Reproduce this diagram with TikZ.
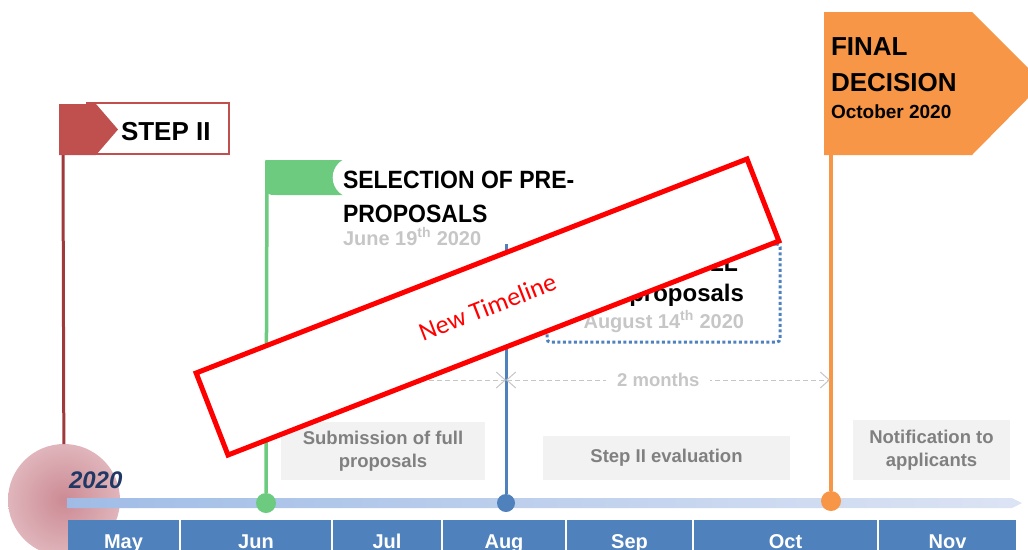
\documentclass[tikz,border=0pt]{standalone}
\usepackage{fontspec}
\setmainfont{Liberation Sans}
\newfontfamily\condfont[FakeStretch=0.92]{Liberation Sans}
\newfontfamily\calfont{Carlito}
\usepackage{tikz}
\usetikzlibrary{arrows.meta,positioning,calc}
\usepackage{xcolor}
\definecolor{stepcolor}{RGB}{192,80,77}
\definecolor{polecolor}{RGB}{160,57,59}
\definecolor{selcolor}{RGB}{108,203,127}
\definecolor{fullcolor}{RGB}{79,129,189}
\definecolor{deccolor}{RGB}{247,150,70}
\definecolor{monthcolor}{RGB}{79,129,189}
\definecolor{yearcolor}{RGB}{31,56,100}
\definecolor{barleft}{RGB}{160,188,230}
\definecolor{barright}{RGB}{220,228,244}
\definecolor{discdark}{RGB}{204,138,148}
\definecolor{disclight}{RGB}{243,224,226}
\definecolor{boxcolor}{RGB}{242,242,242}
\definecolor{boxtext}{RGB}{128,128,128}
\definecolor{datecolor}{RGB}{198,198,198}
\definecolor{stampcolor}{RGB}{255,0,0}
\pgfdeclareradialshading{yeardisc}{\pgfpoint{0bp}{0bp}}{color(0bp)=(discdark); color(50bp)=(disclight)}

\begin{document}
\begin{tikzpicture}[x=1pt, y=-1pt, every node/.style={inner sep=0pt, outer sep=0pt},
    dot/.style={circle, minimum size=20pt},
    greybox/.style={fill=boxcolor, text=boxtext, align=center, font=\fontsize{18.5}{23}\selectfont\bfseries},
    datetext/.style={text=datecolor, font=\fontsize{20}{24}\selectfont\bfseries},
    titletext/.style={font=\fontsize{25}{30}\selectfont\condfont\bfseries},
    monthtext/.style={text=white, font=\fontsize{20}{24}\selectfont\bfseries},
    span/.style={draw=datecolor, line width=1pt, dash pattern=on 5pt off 3pt,
      {Straight Barb[length=9pt,width=16pt]}-{Straight Barb[length=9pt,width=16pt]}}]
  \useasboundingbox (0,0) rectangle (1028,549);
  \clip (0,0) rectangle (1028,549);

  % Year disc and timeline bar
  \node[circle, minimum size=112pt, shade, shading=yeardisc] (yearDisc) at (64,500) {};
  \shade[left color=barleft, right color=barright]
    (67,498) -- (1012,498) -- (1022,503) -- (1012,508) -- (67,508) -- cycle;
  \node[anchor=base west, text=yearcolor, font=\fontsize{24}{24}\selectfont\bfseries\itshape] (year) at (69,488) {2020};

  % Months
  \foreach \a/\b/\m in {67/180/May, 180/332/Jun, 332/442/Jul, 442/566/Aug, 566/693/Sep, 693/878/Oct, 878/1017/Nov} {
    \fill[monthcolor] (\a+1,520) rectangle (\b-1,560);
    \node[monthtext, anchor=base] (m\m) at ({(\a+\b)/2},548) {\m};
  }

  % Dots on the bar
  \node[dot, fill=selcolor] (dotJun) at (266,503) {};
  \node[dot, fill=fullcolor, minimum size=18pt] (dotAug) at (506,503) {};
  \node[dot, fill=deccolor] (dotOct) at (831,501) {};

  % Step II flag
  \node[draw=stepcolor, line width=2pt, fill=white, minimum width=142pt, minimum height=51pt] (stepBox) at (158,128.5) {};
  \fill[stepcolor] (59,104) -- (96,104) -- (118,129.5) -- (96,155) -- (59,155) -- cycle;
  \node[anchor=base west, font=\fontsize{26}{30}\selectfont\bfseries] (stepText) at (121,140) {STEP II};
  \coordinate (stepFoot) at (63,155);
  \draw[polecolor, line width=3pt] (stepFoot) -- (yearDisc);

  % Selection of pre-proposals
  \fill[selcolor] (267,160) -- (343,160) -- (343,195) -- (277,195) .. controls (267,195) .. (267,185) -- cycle;
  \fill[white] (353,177.5) circle (20.3);
  \node[titletext, anchor=base west] (selTitleA) at (343,188) {SELECTION OF PRE-};
  \node[titletext, anchor=base west] (selTitleB) at (343,222) {PROPOSALS};
  \node[datetext, anchor=base west] (selDate) at (343,245) {June 19\textsuperscript{th} 2020};
  \coordinate (selFoot) at (267,160);
  \draw[selcolor, line width=3.5pt] (selFoot) -- (dotJun);

  % Full proposals
  \node[draw=fullcolor, line width=3pt, dash pattern=on 3pt off 2.5pt, rounded corners=3pt,
    minimum width=233pt, minimum height=98pt] (fullBox) at (663.5,293) {};
  \node[titletext, anchor=base east] (fullTitleA) at (738,271) {FULL};
  \node[anchor=base east, font=\fontsize{24}{28}\selectfont\bfseries] (fullTitleB) at (744,301) {proposals};
  \node[datetext, anchor=base east] (fullDate) at (744,328) {August 14\textsuperscript{th} 2020};
  \coordinate (fullFoot) at (506,244);
  \draw[fullcolor, line width=3pt] (fullFoot) -- (dotAug);

  % Final decision
  \fill[deccolor] (824,12) -- (972,12) -- (1043,83) -- (972,155) -- (824,155) -- cycle;
  \node[anchor=base west, font=\fontsize{26}{30}\selectfont\bfseries] (decTitleA) at (831,55) {FINAL};
  \node[anchor=base west, font=\fontsize{26}{30}\selectfont\bfseries] (decTitleB) at (831,91) {DECISION};
  \node[anchor=base west, font=\fontsize{19}{24}\selectfont\bfseries] (decDate) at (831,118) {October 2020};
  \coordinate (decFoot) at (831,155);
  \draw[deccolor, line width=3.5pt] (decFoot) -- (dotOct);

  % Durations
  \coordinate (junMark) at (268,380);
  \coordinate (augMark) at (506,380);
  \coordinate (octMark) at (830,380);
  \draw[span] (junMark) -- (augMark);
  \draw[span] (augMark) -- (octMark)
    node[pos=0.47, fill=white, inner xsep=11pt, inner ysep=3pt, text=datecolor, font=\fontsize{18.5}{22}\selectfont\bfseries] (spanLabel) {2 months};

  % Phases
  \node[greybox, minimum width=204pt, minimum height=58pt] (subBox) at (383,451) {Submission of full\\proposals};
  \node[greybox, minimum width=247pt, minimum height=44pt] (evalBox) at (666.5,458) {Step II evaluation};
  \node[greybox, minimum width=157pt, minimum height=60pt] (notifBox) at (931.5,450) {Notification to\\applicants};

  % Stamp
  \node[draw=stampcolor, line width=5pt, fill=white, rotate=21.23, minimum width=591pt, minimum height=88pt,
    text=stampcolor, font=\fontsize{26}{30}\selectfont\calfont] (stamp) at (487.5,307) {New Timeline};
\end{tikzpicture}
\end{document}
